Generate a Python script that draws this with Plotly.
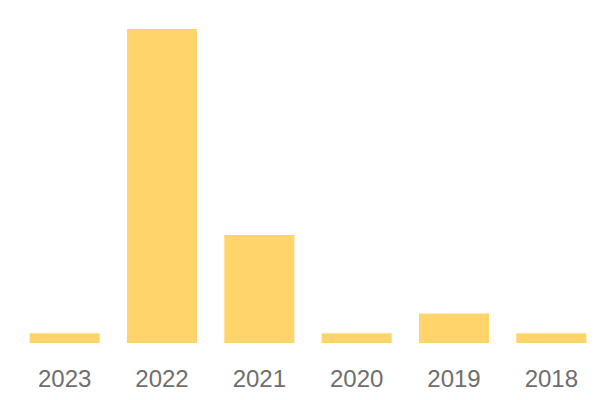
import plotly.graph_objects as go

years = ["2023", "2022", "2021", "2020", "2019", "2018"]
counts = [1, 32, 11, 1, 3, 1]

fig = go.Figure(
    go.Bar(
        x=years,
        y=counts,
        marker=dict(color="#FFD56B", line=dict(width=0)),
        hoverinfo="x+y",
    )
)
fig.update_layout(
    width=600,
    height=400,
    margin=dict(l=8, r=8, t=21, b=65),
    paper_bgcolor="white",
    plot_bgcolor="white",
    bargap=0.28,
    showlegend=False,
    font=dict(family="Liberation Sans, Arial, sans-serif"),
)
fig.update_xaxes(
    type="category",
    showgrid=False,
    showline=False,
    zeroline=False,
    ticks="",
    tickfont=dict(size=24, color="#6e6e6e"),
    ticklabelstandoff=19,
)
fig.update_yaxes(
    range=[0, 32],
    showgrid=False,
    showline=False,
    zeroline=False,
    showticklabels=False,
    ticks="",
)
fig.write_html("out.html")
